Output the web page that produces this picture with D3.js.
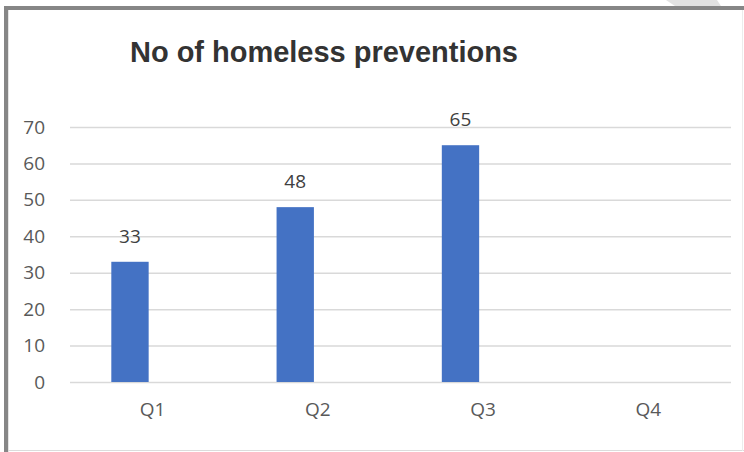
<!DOCTYPE html>
<html>
<head>
<meta charset="utf-8">
<script src="https://cdn.jsdelivr.net/npm/d3@7"></script>
<style>
  html, body { margin: 0; padding: 0; background: #fff; }
  svg { display: block; }
</style>
</head>
<body>
<svg id="chart" width="744" height="452"></svg>
<script>
// Homeless preventions per quarter
const quarters = ["Q1", "Q2", "Q3", "Q4"];
const preventions = [33, 48, 65, null];
const yTicks = [0, 10, 20, 30, 40, 50, 60, 70];
const chartTitle = "No of homeless preventions";

const svg = d3.select("#chart");
const W = 744, H = 452;

// Frame around the chart
svg.append("polygon")
  .attr("points", "666,0 717,0 721,6 675,6")
  .attr("fill", "#e2e2e2");
svg.append("rect")
  .attr("x", 4).attr("y", 6).attr("width", W - 5).attr("height", H - 7)
  .attr("fill", "#fff");
svg.append("line").attr("x1", 4).attr("x2", W).attr("y1", 8).attr("y2", 8)
  .attr("stroke", "#868686").attr("stroke-width", 4);
svg.append("line").attr("x1", 6).attr("x2", 6).attr("y1", 6).attr("y2", H)
  .attr("stroke", "#868686").attr("stroke-width", 4);
svg.append("line").attr("x1", 8.5).attr("x2", 8.5).attr("y1", 10).attr("y2", H)
  .attr("stroke", "#e4e4e4").attr("stroke-width", 1);
svg.append("line").attr("x1", 8).attr("x2", W).attr("y1", 450.5).attr("y2", 450.5)
  .attr("stroke", "#dcdcdc").attr("stroke-width", 1);
svg.append("line").attr("x1", 742.5).attr("x2", 742.5).attr("y1", 10).attr("y2", 451)
  .attr("stroke", "#ececec").attr("stroke-width", 1);

// Scales
const plot = { left: 70, right: 731, top: 127, bottom: 382 };
const x = d3.scaleBand().domain(quarters).range([plot.left, plot.right]).padding(0);
const y = d3.scaleLinear().domain([0, 70]).range([plot.bottom, plot.top]);

// Bar sits in the left part of each quarter's band
const barOffset = 0.25, barWidth = 0.226;
const labelFont = "Open Sans, Noto Sans, sans-serif";

// Title
svg.append("text")
  .attr("x", 130).attr("y", 62)
  .attr("font-family", "Liberation Sans, Arial, sans-serif")
  .attr("font-weight", "bold")
  .attr("font-size", 29)
  .attr("fill", "#333333")
  .attr("textLength", 388)
  .text(chartTitle);

// Gridlines and value ticks
const yAxis = d3.axisLeft(y).tickValues(yTicks)
  .tickSize(-(plot.right - plot.left)).tickPadding(25);
const gy = svg.append("g")
  .attr("transform", `translate(${plot.left},0)`)
  .call(yAxis);
gy.select(".domain").remove();
gy.selectAll(".tick line").attr("stroke", "#d9d9d9").attr("stroke-width", 1.5);
gy.selectAll(".tick text")
  .attr("font-family", labelFont)
  .attr("font-size", 19)
  .attr("fill", "#595959");

// Category labels
const xAxis = d3.axisBottom(x).tickSize(0).tickPadding(21);
const gx = svg.append("g")
  .attr("transform", `translate(0,${plot.bottom})`)
  .call(xAxis);
gx.select(".domain").remove();
gx.selectAll(".tick text")
  .attr("font-family", labelFont)
  .attr("font-size", 19)
  .attr("fill", "#595959");

// Bars
const data = quarters.map((q, i) => ({ q, v: preventions[i] })).filter(d => d.v != null);
svg.append("g").selectAll("rect").data(data).join("rect")
  .attr("x", d => x(d.q) + x.bandwidth() * barOffset)
  .attr("width", x.bandwidth() * barWidth)
  .attr("y", d => y(d.v))
  .attr("height", d => y(0) - y(d.v))
  .attr("fill", "#4472c4");

// Value labels
svg.append("g").selectAll("text").data(data).join("text")
  .attr("x", d => x(d.q) + x.bandwidth() * (barOffset + barWidth / 2))
  .attr("y", d => y(d.v) - 19)
  .attr("text-anchor", "middle")
  .attr("font-family", labelFont)
  .attr("font-size", 19)
  .attr("fill", "#404040")
  .text(d => d.v);
</script>
</body>
</html>
